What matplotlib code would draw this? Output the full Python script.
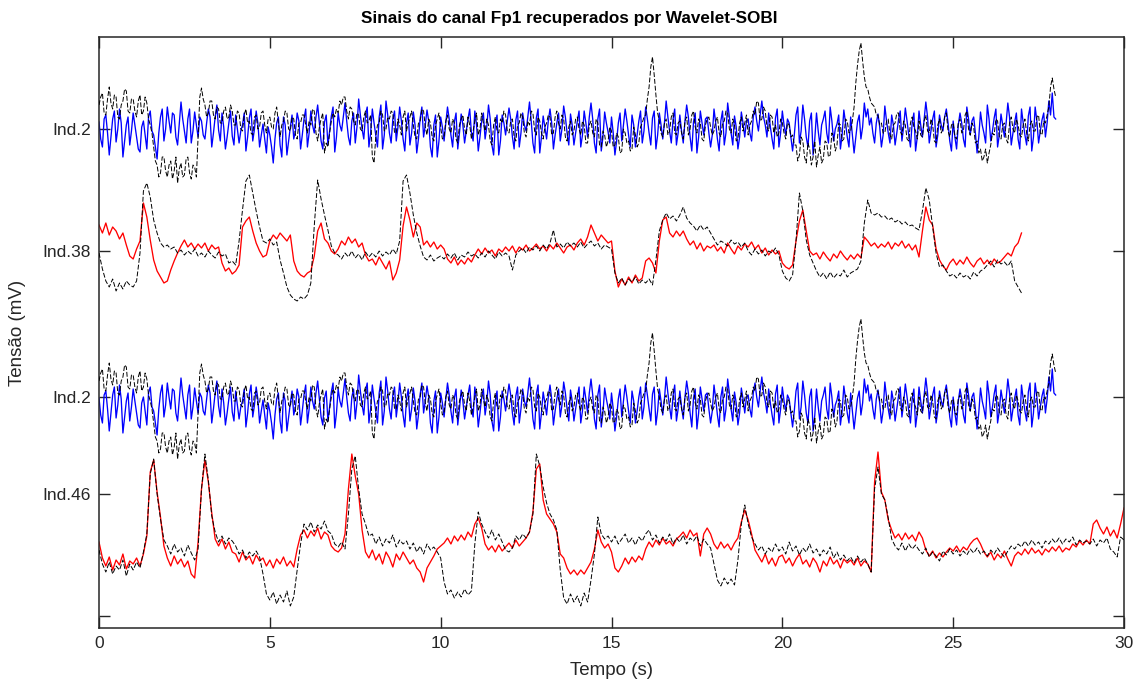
import numpy as np
import matplotlib
matplotlib.use("Agg")
import matplotlib.pyplot as plt

plt.rcParams['font.family'] = ['Liberation Sans', 'DejaVu Sans']

# ---------------- data (offsets from each trace baseline) -------------
# Ind.2 traces sampled every 0.05 s, the others every 0.1 s
dt_ind2 = 0.05
dt = 0.1

ind2_blue = [
    5, -12, -20, 8, 12, -6, -28, -10, 8, 16, -15, -2, 18, 4, -30, -14, 2, 10, -18, -4,
    14, 2, -10, -22, -25, 0, 6, -8, -22, 10, 16, -4, -8, -20, -32, -6, 10, 18, -14, -2,
    20, 6, -6, 14, 12, -10, -18, 4, 25, 8, -4, -16, 8, 18, -16, -4, 15, 2, -10, 10,
    6, -8, -12, 4, 18, 10, -20, -6, 10, 22, -3, -14, 14, 0, -22, -10, 4, 16, -9, -18,
    12, -2, -16, -4, 2, 14, -24, -10, 9, 18, -14, -2, 16, 4, -20, -8, 3, -12, -26, 0,
    -8, -20, -36, -12, 4, 10, -18, -30, 10, 2, -28, -14, 0, 12, -12, -4, 14, 6, -22, -8,
    8, 18, -20, -6, 16, 2, -6, 10, 22, 4, -14, -22, 5, 12, -18, -4, 11, 20, -25, -10,
    14, 2, -4, 10, 24, 6, -10, -18, 6, 14, -16, 0, 28, 12, -2, -12, 12, 20, -20, -6,
    18, 4, -8, -20, 10, 22, -22, -8, 26, 12, -6, -16, 8, 16, -14, 0, 20, 6, -12, -24,
    4, 14, -18, -6, 15, 2, -26, -12, 9, 20, -10, 2, 17, 6, -20, -30, 2, 12, -30, -14,
    10, 0, -14, 4, 20, 8, -8, -20, 5, 14, -22, -6, 13, 2, -16, -4, 8, 18, -6, -14,
    16, 2, -24, -10, 6, 14, -12, 0, 22, 8, -18, -28, 3, 12, -28, -14, 12, 4, -8, 6,
    19, 8, -10, -22, 7, 16, -20, -6, 14, 2, -4, 10, 25, 6, -16, -26, 9, 18, -26, -10,
    11, 0, -12, 6, 18, 4, -22, -8, 4, 14, -14, -2, 21, 10, -6, -18, 13, 2, -18, -6,
    6, 16, -20, -8, 16, 4, -10, 10, 24, 8, -16, -26, 8, 18, -24, -10, 15, 4, -5, -16,
    10, -6, -28, -14, 4, 14, -14, 2, 18, 6, -8, -20, 12, 2, -20, -8, 6, 16, -16, -4,
    20, 8, -6, -18, 9, 16, -22, -8, 14, 2, -12, 4, 26, 10, -4, -16, 7, 18, -18, -6,
    12, -4, -16, 6, 22, 10, -10, -24, 5, 14, -26, -10, 16, 4, -8, 8, 10, -6, -20, -8,
    18, 4, -12, -24, 6, 16, -18, -6, 24, 10, -6, -18, 11, 0, -22, -10, 15, 4, -10, 6,
    8, -6, -14, 10, 20, 6, -4, 12, 26, 10, 2, -10, 14, 0, -12, -22, 9, 18, -20, -6,
    16, 2, -8, 8, 4, -10, -24, -8, 12, 20, -16, -4, 22, 8, -10, -20, 6, 14, -28, -12,
    14, -4, -18, 2, 8, 16, -6, -16, 20, 6, -14, -2, 3, 12, -22, -8, 17, 4, -10, -20,
    10, -8, -26, -10, 5, 12, -12, 0, 24, 10, 18, 2, 9, -6, -16, 4, 13, 0, -20, -8,
    21, 6, -6, -16, 12, 2, -18, -6, 7, 16, -14, 0, 19, 6, -8, -20, 4, 14, -24, -10,
    16, 2, -10, 8, 25, 10, -16, -4, 8, 16, -20, -8, 12, 2, -4, 10, 18, 4, -14, -24,
    6, -10, -22, 2, 14, 4, -12, -20, 20, 8, -8, 6, 10, -6, -26, -10, 15, 2, -6, -16,
    22, 8, -14, -4, 9, 18, -20, -8, 13, 2, -10, 4, 24, 10, -18, -6, 5, 14, -12, -22,
    18, 4, -8, -18, 11, 20, -24, -10, 20, 6, -16, -4, 7, 14, -10, 4, 26, 12, 34, 10,
    8]

ind2_black = [
    22, 30, 34, 14, 12, 28, 40, 24, 18, 32, 30, 10, 8, 22, 26, 38, 36, 16, 14, 28,
    28, 16, 10, 26, 32, 12, 16, 30, 24, 8, 2, -6, -20, -34, -38, -50, -46, -30, -30, -44,
    -50, -38, -34, -52, -44, -30, -56, -42, -36, -50, -48, -32, -30, -46, -52, -38, -40, -50, -10, 30,
    39, 28, 22, 10, 14, 26, 26, 12, 8, 20, 18, 4, 4, 16, 20, 8, 10, 22, 16, 2,
    2, 16, 14, -2, -4, 12, 18, 4, 6, -6, -8, 10, 12, -2, 0, 14, 16, 2, -6, 8,
    10, 0, -2, 14, 20, 4, -10, 2, 6, 16, 14, -2, -4, 10, 8, -8, -12, 4, 4, 12,
    12, 2, -6, 6, 2, 18, 16, -6, -14, 0, 8, 14, -26, -16, -20, -6, 6, 14, 10, 18,
    14, 26, 22, 30, 30, 16, 8, 20, 18, 6, 2, 14, 12, -2, -4, 10, 16, 4, 6, 12,
    -30, -36, -10, 2, 4, 16, 12, -4, -2, 10, 8, 16, 14, -6, -6, 8, 2, -8, 10, 16,
    -4, 4, 10, 16, 2, -10, -12, 4, 6, 18, 16, 0, -8, 8, 4, -10, -14, 2, 8, 14,
    0, -12, -10, 6, 12, -2, -6, 8, 4, -12, -16, 2, 8, 12, -2, -8, 10, 2, -12, -4,
    6, 14, -8, -2, 14, 4, -4, 8, 2, -14, -18, 2, 10, -4, -6, 8, 4, 16, 12, -4,
    -6, 6, 8, -10, -14, 2, 4, 14, 10, -6, -10, 6, 2, 16, 14, -4, -8, 10, 6, -6,
    -12, 0, 4, 12, 10, -8, -6, 10, 16, 4, -2, 12, 8, -10, -14, 0, 6, -8, -4, 8,
    10, -2, -8, 6, 2, -16, -16, 2, 6, -6, -10, 8, 4, -18, -20, -4, -8, -20, -14, 0,
    -4, -20, -18, -6, -10, -26, -24, -2, -6, -16, -14, -24, -22, 0, -8, -20, -16, 0, 4, 10,
    12, 28, 40, 60, 70, 52, 32, 14, 6, -6, -10, 4, 8, -8, -4, 10, 14, -6, -8, 4,
    6, -6, -12, 6, 10, -8, -2, 12, 16, 0, -6, 8, 4, -12, -14, 2, 8, 10, 0, -8,
    -4, 6, 10, -6, -10, 4, 6, 16, 14, -2, -6, 8, 2, -14, -12, 4, 10, -4, 4, 12,
    -8, 2, 6, 16, 12, 26, 24, 6, 8, 20, 16, 0, -4, 12, 10, -6, 2, -10, -6, 8,
    4, -6, -12, 4, 2, -10, -8, -18, -18, -34, -28, -10, -14, -30, -36, -16, -22, -38, -30, -14,
    -40, -28, -20, -36, -32, -14, -16, -30, -28, -6, -10, -24, -18, 4, 2, -14, -12, 8, 6, -6,
    -4, 6, 20, 44, 62, 76, 84, 66, 50, 40, 38, 30, 24, 22, 20, 12, 12, 2, 4, -6,
    -6, 6, 8, -8, -12, 2, 4, 14, 14, -4, -8, 6, 2, -12, -14, 4, 10, 0, -4, -12,
    6, -8, -10, 6, 12, -4, -6, 8, 2, -14, -16, 2, 8, -6, -2, 10, 14, -4, -10, 2,
    4, -10, -12, 4, 8, -6, -4, 12, 16, -2, -8, 4, 0, -16, -14, -26, -22, -34, -30, -22,
    -36, -26, -18, -6, -8, 8, 6, -10, -12, 2, 4, -12, -16, 4, 10, -2, -6, 8, 2, -8,
    -10, 2, 8, -6, -14, 2, 6, -4, -4, 10, 12, -6, -8, 6, 4, 12, 20, 40, 49, 38,
    30]

ind38_red = [
    26, 18, 28, 16, 24, 20, 12, 18, 6, -5,
    -8, 2, 10, 48, 34, 11, -9, -20, -26, -32,
    -30, -19, -10, -2, 5, 11, 4, 8, 2, 7,
    3, 8, 0, 6, 2, 4, -12, -20, -17, -23,
    -20, -14, 24, 30, 34, 20, 8, 0, -6, -4,
    10, 16, 12, 18, 14, 10, 16, -10, -20, -24,
    -26, -22, -20, -5, 20, 28, 12, 8, 0, -3,
    2, 10, 6, 14, 8, 12, 4, 8, -4, -10,
    -8, -14, -6, -12, -18, -10, -29, -22, -9, 25,
    44, 31, 14, 28, 24, 6, 10, 4, 9, 2,
    6, 2, -8, -12, -6, -14, -9, -13, -7, -11,
    -4, 2, -3, 3, -2, 1, -5, 2, -1, 4,
    0, 5, -2, 4, 1, 6, 0, 3, 7, 2,
    5, 0, 6, 2, 8, 3, -2, 4, 6, 1,
    8, 12, 6, 14, 26, 18, 10, 16, 12, 8,
    10, -20, -36, -28, -34, -26, -32, -24, -30, -27,
    -10, -7, -12, -22, 10, 31, 34, 18, 14, 20,
    15, 20, 12, 6, 10, 2, 8, 0, 5, 3,
    6, 0, 4, -2, 8, 2, -3, 5, 1, 7,
    4, 9, 2, 6, -2, 3, -4, 1, -3, 0,
    -12, -16, -18, -14, 10, 30, 41, 20, 0, -4,
    -2, -8, -1, -6, -10, -3, -7, 0, -5, -9,
    -4, -8, -3, -7, 14, 10, 5, 8, 3, 7,
    4, 9, 2, 8, 5, 10, 3, 7, 1, 6,
    -6, 20, 44, 31, 26, 2, -9, -15, -19, -12,
    -8, -14, -9, -13, -6, -12, -16, -10, -7, -13,
    -9, -14, -8, -12, -10, -6, -2, -5, 4, 8,
    18]

ind38_black = [
    -2, -18, -30, -36, -28, -40, -32, -38, -30, -34,
    -36, -30, -2, 60, 68, 54, 31, 18, 8, 4,
    6, 2, 4, -2, 1, -4, 0, -3, 2, -5,
    -2, -6, 0, -4, -7, -1, -5, -3, -12, -10,
    -14, 10, 41, 70, 76, 58, 40, 24, 10, 8,
    12, 6, 9, -9, -22, -36, -44, -48, -50, -46,
    -48, -44, -32, 25, 71, 52, 36, 21, 5, -2,
    -4, -8, -2, -6, 0, -7, -3, -9, -1, -6,
    -2, -6, 0, -5, -1, -4, 2, -3, 10, 70,
    76, 58, 36, 18, 5, -6, -9, -4, -10, -7,
    -5, -8, -3, -7, -2, -9, -4, -6, -1, -5,
    -3, -7, -2, -6, 0, -4, -8, -1, -5, -2,
    -5, -19, -4, 0, 3, -2, 4, 1, 5, 0,
    6, 2, 8, 21, 4, 7, 3, 9, 5, 8,
    4, 9, 3, 7, 10, 5, 8, 2, 6, 4,
    2, -22, -32, -27, -34, -28, -31, -26, -33, -29,
    -32, -28, -34, -9, 20, 31, 38, 32, 35, 30,
    36, 44, 33, 28, 25, 20, 26, 21, 24, 18,
    12, 6, 10, 8, 5, 11, 7, 9, 4, 8,
    0, -4, 2, -3, 1, -5, 0, -2, 3, -4,
    -20, -27, -30, -24, 10, 58, 40, 11, -4, -12,
    -20, -26, -22, -28, -21, -27, -23, -25, -19, -26,
    -22, -20, -18, -10, 28, 51, 38, 36, 38, 34,
    35, 31, 33, 29, 31, 27, 29, 25, 26, 23,
    21, 40, 63, 51, 24, -2, -16, -14, -20, -25,
    -23, -27, -22, -26, -24, -28, -21, -25, -20, -18,
    -14, -10, -16, -9, -13, -11, -15, -10, -30, -36,
    -42]

ind46_red = [
    -48, -64, -72, -63, -76, -66, -71, -60, -75, -67,
    -70, -64, -72, -60, -42, 22, 34, 2, -23, -52,
    -64, -72, -62, -70, -65, -73, -67, -80, -84, -48,
    5, 34, 12, -19, -45, -52, -45, -55, -48, -58,
    -60, -68, -58, -66, -62, -70, -61, -67, -64, -72,
    -66, -74, -65, -70, -63, -72, -67, -73, -55, -41,
    -36, -44, -37, -42, -34, -45, -38, -41, -52, -56,
    -58, -54, -40, 5, 40, 18, 0, -36, -58, -64,
    -56, -66, -60, -70, -58, -64, -73, -60, -66, -58,
    -64, -70, -66, -74, -78, -88, -74, -68, -62, -55,
    -52, -49, -44, -50, -42, -47, -41, -46, -38, -43,
    -30, -24, -34, -50, -56, -52, -58, -51, -57, -53,
    -49, -54, -46, -52, -48, -44, -38, -18, 25, 30,
    -6, -20, -25, -30, -38, -60, -64, -74, -80, -76,
    -81, -76, -80, -74, -68, -55, -36, -48, -54, -50,
    -58, -74, -78, -72, -64, -70, -63, -68, -62, -66,
    -55, -48, -53, -46, -51, -44, -50, -47, -52, -45,
    -42, -38, -44, -36, -42, -39, -62, -40, -34, -40,
    -50, -55, -48, -54, -50, -56, -49, -44, -28, -16,
    -26, -40, -56, -62, -68, -60, -70, -64, -72, -63,
    -61, -69, -64, -72, -65, -60, -70, -66, -73, -64,
    -69, -78, -67, -72, -63, -70, -66, -74, -65, -69,
    -66, -71, -64, -72, -67, -70, -78, 12, 42, 2,
    -6, -26, -36, -44, -40, -46, -39, -45, -41, -47,
    -38, -44, -56, -62, -57, -64, -59, -63, -58, -54,
    -57, -52, -58, -53, -56, -50, -46, -44, -50, -58,
    -63, -58, -66, -60, -64, -57, -65, -72, -62, -58,
    -61, -55, -60, -54, -59, -56, -61, -55, -58, -53,
    -57, -52, -58, -54, -56, -50, -53, -47, -51, -46,
    -50, -30, -26, -34, -40, -33, -42, -36, -44, -30,
    -14]

ind46_black = [
    -56, -70, -78, -68, -80, -72, -76, -66, -82, -70,
    -76, -68, -74, -58, -40, 20, 35, 0, -25, -46,
    -52, -60, -50, -58, -54, -62, -51, -59, -66, -55,
    5, 40, 14, -22, -38, -48, -42, -50, -44, -47,
    -52, -60, -56, -64, -58, -62, -57, -63, -80, -100,
    -106, -98, -110, -101, -108, -97, -112, -103, -76, -50,
    -30, -36, -28, -38, -31, -35, -27, -37, -40, -50,
    -53, -48, -55, -20, 25, 38, 5, -20, -30, -42,
    -40, -50, -43, -52, -45, -49, -41, -53, -46, -50,
    -47, -55, -49, -58, -52, -60, -50, -56, -53, -58,
    -64, -88, -100, -96, -104, -98, -103, -95, -101, -97,
    -50, -18, -30, -38, -44, -36, -46, -40, -48, -56,
    -58, -54, -42, -46, -40, -44, -38, -20, 40, 28,
    7, -9, -20, -26, -36, -76, -104, -110, -100, -108,
    -102, -112, -99, -108, -86, -60, -23, -40, -45, -42,
    -48, -42, -50, -45, -40, -49, -44, -51, -43, -47,
    -40, -36, -46, -41, -49, -43, -47, -40, -50, -44,
    -48, -41, -50, -44, -47, -42, -52, -45, -50, -54,
    -70, -86, -92, -84, -90, -85, -91, -66, -30, -11,
    -30, -43, -50, -56, -52, -60, -54, -58, -50, -57,
    -53, -60, -48, -57, -52, -61, -54, -58, -50, -59,
    -55, -62, -56, -60, -53, -64, -58, -66, -61, -67,
    -63, -69, -62, -68, -64, -70, -78, 5, 27, 0,
    -6, -24, -45, -52, -56, -49, -57, -50, -55, -51,
    -56, -60, -54, -63, -58, -62, -67, -57, -61, -55,
    -60, -56, -62, -57, -61, -55, -59, -54, -60, -57,
    -62, -56, -60, -54, -59, -63, -57, -52, -55, -50,
    -53, -47, -52, -46, -51, -48, -54, -47, -50, -45,
    -49, -44, -50, -45, -48, -43, -51, -46, -49, -47,
    -50, -45, -52, -46, -49, -44, -55, -58, -63, -43,
    -46]

ytick_labels = ["Ind.2", "Ind.38", "Ind.2", "Ind.46", ""]
xticks = [0, 5, 10, 15, 20, 25, 30]

# ---------------- layout (pixel-like vertical units) ----------------
W, H = 1139, 688
fig = plt.figure(figsize=(W / 100, H / 100), dpi=100)
ax = fig.add_axes([99 / W, 1 - 628 / H, (1124 - 99) / W, (628 - 37) / H])

base_top2 = H - 127
base_38 = H - 251
base_mid2 = H - 403
base_46 = H - 494
ytick_pos = [H - 129, H - 251, H - 397, H - 494, H - 616]

def tt(arr, step):
    return np.arange(len(arr)) * step

col_kw = dict(lw=0.95, zorder=2)
blk_kw = dict(color='black', lw=0.7, ls=(0, (5, 2.0)), zorder=3)

for base in (base_top2, base_mid2):
    ax.plot(tt(ind2_blue, dt_ind2), base + np.array(ind2_blue), color=(0, 0, 1), **col_kw)
    ax.plot(tt(ind2_black, dt_ind2), base + np.array(ind2_black), **blk_kw)

ax.plot(tt(ind38_red, dt), base_38 + np.array(ind38_red), color=(1, 0, 0), **col_kw)
ax.plot(tt(ind38_black, dt), base_38 + np.array(ind38_black), **blk_kw)
ax.plot(tt(ind46_red, dt), base_46 + np.array(ind46_red), color=(1, 0, 0), **col_kw)
ax.plot(tt(ind46_black, dt), base_46 + np.array(ind46_black), **blk_kw)

ax.set_xlim(0, 30)
ax.set_ylim(H - 628, H - 37)
ax.set_xticks(xticks)
ax.set_yticks(ytick_pos)
ax.set_yticklabels(ytick_labels)

dark = '#262626'
for s in ax.spines.values():
    s.set_color(dark)
    s.set_linewidth(1.1)
ax.tick_params(direction='in', length=8, width=1.0, colors=dark, labelsize=12.5,
               top=True, right=True, pad=6)

# title is centred on the figure (not the axes) in the reference
fig.text(0.5, 1 - 19 / H, "Sinais do canal Fp1 recuperados por Wavelet-SOBI",
         fontsize=12.3, fontweight='bold', color='black', ha='center', va='center')
ax.set_xlabel("Tempo (s)", fontsize=13.5, color=dark, labelpad=8)
ax.set_ylabel("Tensão (mV)", fontsize=13.5, color=dark, labelpad=12)

fig.savefig("out.png", dpi=100)
